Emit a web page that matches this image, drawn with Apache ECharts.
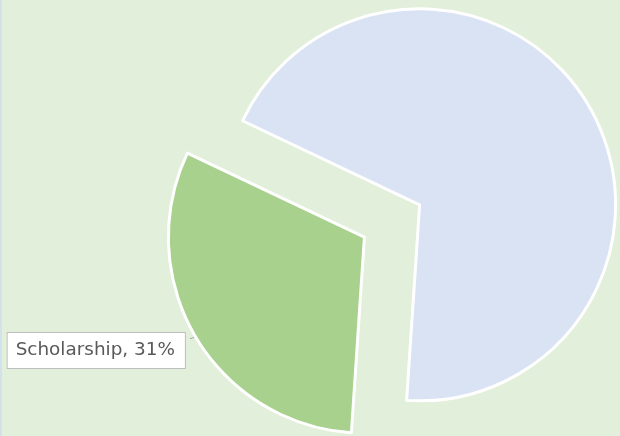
<!DOCTYPE html>
<html>
<head>
<meta charset="utf-8">
<script src="https://cdn.jsdelivr.net/npm/echarts@6/dist/echarts.min.js"></script>
<style>
html,body{margin:0;padding:0;background:#e2efda;}
#c{width:620px;height:436px;box-shadow:inset 2px 0 0 #d3e2ea;}
</style>
</head>
<body>
<div id="c"></div>
<script>
const categories = ['Other', 'Scholarship'];
const values = [69, 31];
const colors = ['#dae3f3', '#a9d18e'];
const showLabel = [false, true];

const chart = echarts.init(document.getElementById('c'), null, {renderer: 'canvas'});
chart.setOption({
  backgroundColor: 'transparent',
  animation: false,
  series: [{
    type: 'pie',
    center: [392, 221],
    radius: [0, 196],
    startAngle: 154.6,
    clockwise: true,
    selectedMode: 'multiple',
    selectedOffset: 32,
    avoidLabelOverlap: false,
    emphasis: {disabled: true},
    select: {itemStyle: {borderColor: '#ffffff', borderWidth: 3}},
    itemStyle: {borderColor: '#ffffff', borderWidth: 3},
    label: {
      show: true,
      position: 'outside',
      alignTo: 'none',
      formatter: p => '{b|' + p.name + ', ' + Math.round(p.percent) + '%}',
      padding: [24, 0, 0, 0],
      rich: {
        b: {
          fontFamily: 'DejaVu Sans',
          fontSize: 18.4,
          lineHeight: 19,
          color: '#595959',
          backgroundColor: '#ffffff',
          borderColor: '#bfbfbf',
          borderWidth: 1,
          padding: [8, 10, 9, 8]
        }
      }
    },
    labelLine: {show: true, length: 4, length2: 2, lineStyle: {color: '#a6a6a6', width: 1}},
    data: categories.map((c, i) => ({
      name: c,
      value: values[i],
      selected: true,
      itemStyle: {color: colors[i]},
      select: {itemStyle: {color: colors[i]}},
      label: {show: showLabel[i]},
      labelLine: {show: showLabel[i]}
    }))
  }]
});
</script>
</body>
</html>
